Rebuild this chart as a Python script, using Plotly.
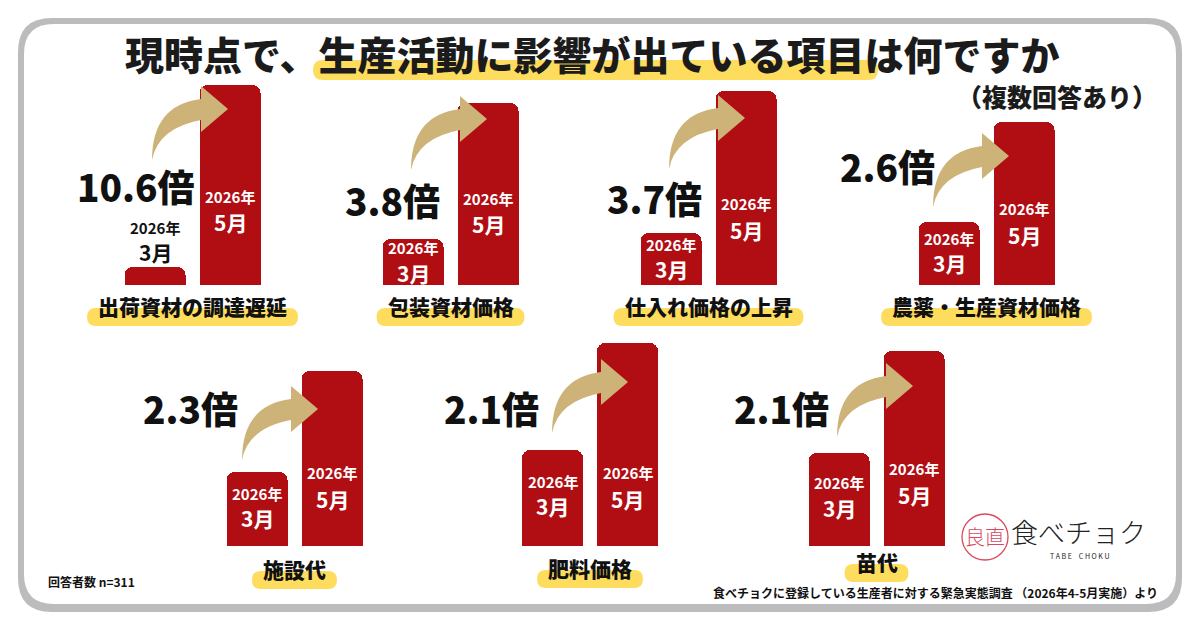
import plotly.graph_objects as go

W, H = 1200, 630

# ---------------- data ----------------
categories = ["出荷資材の調達遅延", "包装資材価格", "仕入れ価格の上昇", "農薬・生産資材価格",
              "施設代", "肥料価格", "苗代"]
ratio_labels = ["10.6倍", "3.8倍", "3.7倍", "2.6倍", "2.3倍", "2.1倍", "2.1倍"]
march_values = [18, 46, 52, 63, 74, 96, 93]      # relative bar heights (2026年3月)
may_values = [200, 182, 194, 163, 175, 203, 195]  # relative bar heights (2026年5月)
year_label = "2026年"
month_labels = ["3月", "5月"]
title_text = "現時点で、生産活動に影響が出ている項目は何ですか"
subtitle_text = "（複数回答あり）"
n_text = "回答者数 n=311"
source_text = "食べチョクに登録している生産者に対する緊急実態調査 （2026年4-5月実施）より"

# ---------------- layout helpers (pixel positions) ----------------
group_left_px = [117.5, 375.5, 633.5, 911.5, 219.5, 515, 801.5]
group_row = [0, 0, 0, 0, 1, 1, 1]
row_base_px = [285, 546]
axis_h_px = 250
slot_px = 75
label_y_px = [306, 306, 306, 306, 569, 568, 562]
ratio_pos_px = [(136, 186), (392, 200), (655, 198), (887, 166), (190, 408), (491, 408), (782, 408)]
arrow_tail_px = [(152, 160), (411, 170), (669, 169), (933, 207), (242, 460), (552, 433), (837, 437)]
may_year_off = [89, 87, 82, 77, 74, 74, 78]
may_month_off = [63, 61, 55, 50, 47, 47, 51]

RED = "#b10e14"
GOLD = "#cdb377"
YELLOW = "#fedc5e"
FONT = "Noto Sans CJK JP"


def px(x, y):
    return x / W, 1 - y / H


def path_from(cmds):
    out = []
    for c in cmds:
        if isinstance(c, str):
            out.append(c)
        else:
            X, Y = px(*c)
            out.append(f"{X:.5f},{Y:.5f}")
    return " ".join(out)


def rrect(x0, y0, x1, y1, r):
    return path_from(["M", (x0 + r, y0), "L", (x1 - r, y0), "Q", (x1, y0), (x1, y0 + r),
                      "L", (x1, y1 - r), "Q", (x1, y1), (x1 - r, y1),
                      "L", (x0 + r, y1), "Q", (x0, y1), (x0, y1 - r),
                      "L", (x0, y0 + r), "Q", (x0, y0), (x0 + r, y0), "Z"])


def arrow(tx, ty):
    p = lambda dx, dy: (tx + dx, ty + dy)
    return path_from(["M", p(0, 0), "Q", p(0, -55), p(49, -61), "L", p(49, -74), "L", p(76, -51),
                      "L", p(49, -28), "L", p(49, -40), "Q", p(6, -32), p(0, 0), "Z"])


fig = go.Figure()
shapes = []
annotations = []

# frame
shapes.append(dict(type="path", path=rrect(18, 18, 1182, 612, 34), xref="paper", yref="paper",
                   fillcolor="#bcbbbd", line=dict(width=0), layer="below"))
shapes.append(dict(type="path", path=rrect(24, 24, 1176, 604, 30), xref="paper", yref="paper",
                   fillcolor="#ffffff", line=dict(width=0), layer="below"))

# title
shapes.append(dict(type="path", path=rrect(313, 60, 878, 80, 10), xref="paper", yref="paper",
                   fillcolor=YELLOW, line=dict(width=0), layer="below"))
tx, ty = px(592, 53)
annotations.append(dict(x=tx, y=ty, xref="paper", yref="paper", text=title_text, showarrow=False,
                        font=dict(family=FONT, size=39, color="#1b1b1b", weight=900),
                        xanchor="center", yanchor="middle", borderpad=0))
sx, sy = px(1158, 96)
annotations.append(dict(x=sx, y=sy, xref="paper", yref="paper", text=subtitle_text, showarrow=False,
                        font=dict(family=FONT, size=25, color="#1b1b1b", weight=900),
                        xanchor="right", yanchor="middle", borderpad=0))

for i, cat in enumerate(categories):
    n = "" if i == 0 else str(i + 1)
    xa, ya = "x" + n, "y" + n
    left = group_left_px[i]
    base = row_base_px[group_row[i]]
    fig.add_trace(go.Bar(x=[0, 1], y=[march_values[i], may_values[i]], xaxis=xa, yaxis=ya,
                         width=0.82, marker=dict(color=RED, cornerradius=8, line=dict(width=0)),
                         hoverinfo="skip", showlegend=False))
    fig.layout["xaxis" + n] = dict(domain=[left / W, (left + 2 * slot_px) / W], range=[-0.5, 1.5],
                                   visible=False, anchor=ya, fixedrange=True)
    fig.layout["yaxis" + n] = dict(domain=[1 - base / H, 1 - (base - axis_h_px) / H],
                                   range=[0, axis_h_px], visible=False, anchor=xa, fixedrange=True)

    # March labels
    mv = march_values[i]
    if mv < 30:
        yy, ym, col = mv + 40, mv + 15, "#111111"
    else:
        yy = 0.55 * mv + 12
        ym, col = yy - 25, "#ffffff"
    annotations.append(dict(x=0, y=yy, xref=xa, yref=ya, text=year_label, showarrow=False,
                            font=dict(family=FONT, size=15, color=col, weight=700), yanchor="middle"))
    annotations.append(dict(x=0, y=ym, xref=xa, yref=ya, text=month_labels[0], showarrow=False,
                            font=dict(family=FONT, size=21, color=col, weight=700), yanchor="middle"))
    # May labels
    annotations.append(dict(x=1, y=may_year_off[i], xref=xa, yref=ya, text=year_label, showarrow=False,
                            font=dict(family=FONT, size=15, color="#ffffff", weight=700), yanchor="middle"))
    annotations.append(dict(x=1, y=may_month_off[i], xref=xa, yref=ya, text=month_labels[1], showarrow=False,
                            font=dict(family=FONT, size=21, color="#ffffff", weight=700), yanchor="middle"))

    # ratio
    rx, ry = px(*ratio_pos_px[i])
    annotations.append(dict(x=rx, y=ry, xref="paper", yref="paper", text=ratio_labels[i], showarrow=False,
                            font=dict(family=FONT, size=37, color="#111111", weight=900),
                            xanchor="center", yanchor="middle"))
    # arrow
    shapes.append(dict(type="path", path=arrow(*arrow_tail_px[i]), xref="paper", yref="paper",
                       fillcolor=GOLD, line=dict(width=0), layer="above"))

    # category label with highlight
    cx = left + slot_px
    cy = label_y_px[i]
    half = len(cat) * 21 / 2 + 11
    shapes.append(dict(type="path", path=rrect(cx - half, cy + 2, cx + half, cy + 20, 9),
                       xref="paper", yref="paper", fillcolor=YELLOW, line=dict(width=0), layer="below"))
    lx, ly = px(cx, cy)
    annotations.append(dict(x=lx, y=ly, xref="paper", yref="paper", text=cat, showarrow=False,
                            font=dict(family=FONT, size=21, color="#111111", weight=900),
                            xanchor="center", yanchor="middle"))

# footer
fx, fy = px(46, 581)
annotations.append(dict(x=fx, y=fy, xref="paper", yref="paper", text=n_text, showarrow=False,
                        font=dict(family=FONT, size=12, color="#111111", weight=700),
                        xanchor="left", yanchor="middle"))
fx, fy = px(1160, 592)
annotations.append(dict(x=fx, y=fy, xref="paper", yref="paper", text=source_text, showarrow=False,
                        font=dict(family=FONT, size=12, color="#111111", weight=700),
                        xanchor="right", yanchor="middle"))

# logo
c0x, c0y = px(962, 514)
c1x, c1y = px(1008, 560)
shapes.append(dict(type="circle", x0=c0x, y0=c1y, x1=c1x, y1=c0y, xref="paper", yref="paper",
                   line=dict(color="#d94a5e", width=1.3), fillcolor="rgba(0,0,0,0)", layer="above"))
lx, ly = px(985, 536)
annotations.append(dict(x=lx, y=ly, xref="paper", yref="paper", text="良直", showarrow=False,
                        font=dict(family=FONT, size=20, color="#d94a5e", weight=300),
                        xanchor="center", yanchor="middle"))
lx, ly = px(1078, 531)
annotations.append(dict(x=lx, y=ly, xref="paper", yref="paper", text="食べチョク", showarrow=False,
                        font=dict(family=FONT, size=27, color="#222222", weight=300),
                        xanchor="center", yanchor="middle"))
lx, ly = px(1079, 556)
annotations.append(dict(x=lx, y=ly, xref="paper", yref="paper", text="T A B E　C H O K U", showarrow=False,
                        font=dict(family=FONT, size=7, color="#222222"),
                        xanchor="center", yanchor="middle"))

fig.update_layout(width=W, height=H, margin=dict(l=0, r=0, t=0, b=0),
                  paper_bgcolor="#ffffff", plot_bgcolor="rgba(0,0,0,0)",
                  shapes=shapes, annotations=annotations, bargap=0, showlegend=False)

fig.write_html("out.html", config={"displayModeBar": False},
               post_script="document.body.style.margin='0';document.body.style.overflow='hidden';")
